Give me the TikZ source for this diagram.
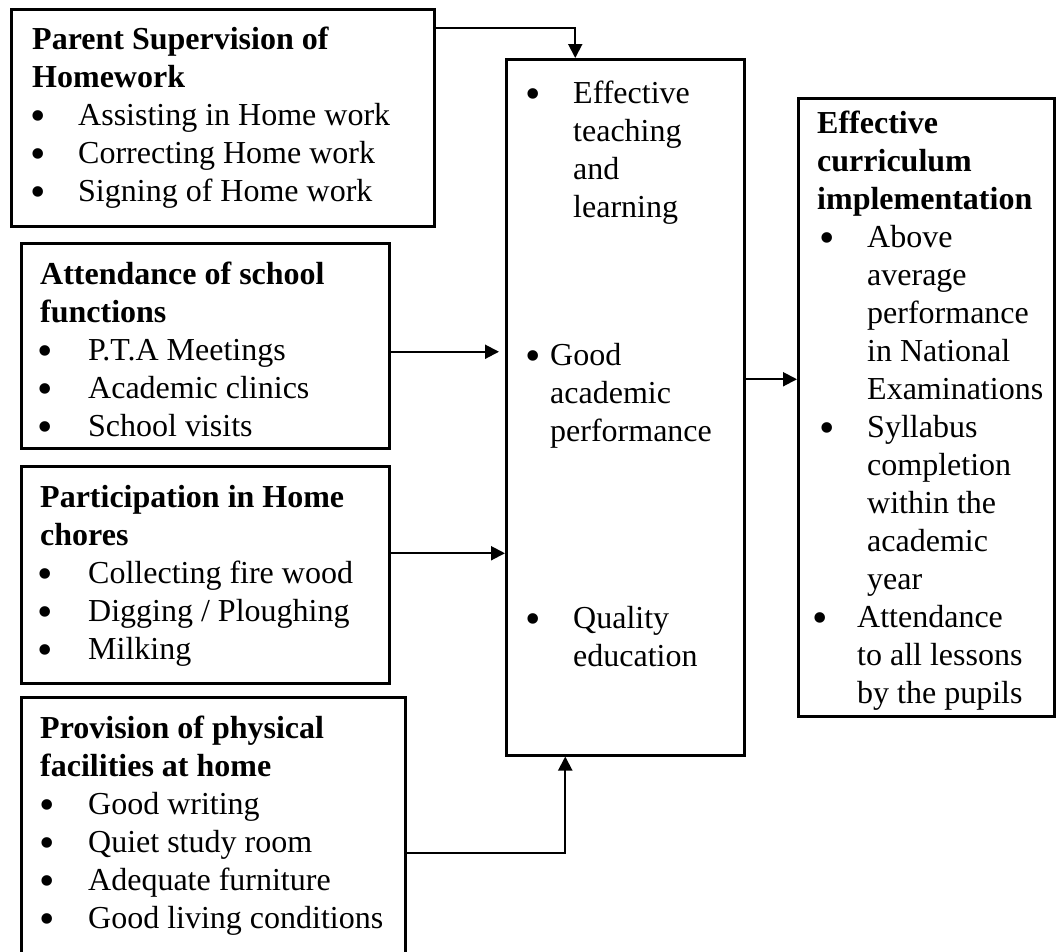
\documentclass[tikz,border=0pt]{standalone}
\usepackage{fontspec}
\setmainfont{Liberation Serif}
\usetikzlibrary{arrows.meta}
\newcommand{\rows}[1]{\begin{tabular}[t]{@{}l@{}}#1\end{tabular}}
\newcommand{\bul}[2]{\makebox[#2][l]{\hspace*{#1}\makebox[0pt]{\raisebox{-5pt}{\fontsize{44}{38}\selectfont\textbullet}}}}

\begin{document}
\begin{tikzpicture}[x=1pt,y=-1pt,
  box/.style={draw,line width=2.5pt,anchor=north west,inner sep=0pt},
  txt/.style={anchor=base west,inner sep=0pt,font=\fontsize{32}{38}\selectfont},
  arr/.style={line width=2pt,-{Triangle[length=14pt,width=14pt]}}]
\clip (0,0) rectangle (1063,951);
%boxes
\node[box,minimum width=423pt,minimum height=217pt] (supv) at (10,8) {};
\node[box,minimum width=368pt,minimum height=205pt] (attend) at (20,242) {};
\node[box,minimum width=368pt,minimum height=217pt] (chores) at (20,465) {};
\node[box,minimum width=384pt,minimum height=300pt] (facil) at (20,696) {};
\node[box,minimum width=238pt,minimum height=696pt] (outcome) at (505,58) {};
\node[box,minimum width=256pt,minimum height=618pt] (impl) at (797,97) {};
%texts
\node[txt] (supvtext) at (32,49) {\rows{\textbf{Parent Supervision of}\\ \textbf{Homework}\\
  \bul{6pt}{46pt}Assisting in Home work\\ \bul{6pt}{46pt}Correcting Home work\\ \bul{6pt}{46pt}Signing of Home work}};
\node[txt] (attendtext) at (40,284) {\rows{\textbf{Attendance of school}\\ \textbf{functions}\\
  \bul{5pt}{48pt}P.T.A Meetings\\ \bul{5pt}{48pt}Academic clinics\\ \bul{5pt}{48pt}School visits}};
\node[txt] (chorestext) at (40,507) {\rows{\textbf{Participation in Home}\\ \textbf{chores}\\
  \bul{5pt}{48pt}Collecting fire wood\\ \bul{5pt}{48pt}Digging / Ploughing\\ \bul{5pt}{48pt}Milking}};
\node[txt] (faciltext) at (40,738) {\rows{\textbf{Provision of physical}\\ \textbf{facilities at home}\\
  \bul{7pt}{48pt}Good writing\\ \bul{7pt}{48pt}Quiet study room\\ \bul{7pt}{48pt}Adequate furniture\\ \bul{7pt}{48pt}Good living conditions}};
\node[txt] (teach) at (520,103) {\rows{\bul{13pt}{53pt}Effective\\ \hspace*{53pt}teaching\\ \hspace*{53pt}and\\ \hspace*{53pt}learning}};
\node[txt] (perf) at (520,365) {\rows{\bul{13pt}{30pt}Good\\ \hspace*{30pt}academic\\ \hspace*{30pt}performance}};
\node[txt] (qual) at (520,628) {\rows{\bul{13pt}{53pt}Quality\\ \hspace*{53pt}education}};
\node[txt] (impltext) at (817,133) {\rows{\textbf{Effective}\\ \textbf{curriculum}\\ \textbf{implementation}\\
  \bul{10pt}{50pt}Above\\ \hspace*{50pt}average\\ \hspace*{50pt}performance\\ \hspace*{50pt}in National\\ \hspace*{50pt}Examinations\\
  \bul{10pt}{50pt}Syllabus\\ \hspace*{50pt}completion\\ \hspace*{50pt}within the\\ \hspace*{50pt}academic\\ \hspace*{50pt}year\\
  \bul{3pt}{40pt}Attendance\\ \hspace*{40pt}to all lessons\\ \hspace*{40pt}by the pupils}};
%arrows
\coordinate (a1) at ([yshift=-20pt]supv.north east);
\coordinate (a2) at ([yshift=-6pt]attend.east);
\coordinate (a3) at ([yshift=21.5pt]chores.east);
\coordinate (a4) at ([yshift=-6pt]facil.east);
\coordinate (a5) at ([yshift=28pt]outcome.east);
\draw[arr] (a1) -| ([xshift=-50pt]outcome.north);
\draw[arr,shorten >=6pt] (a2) -- (a2 -| outcome.west);
\draw[arr] (a3) -- (a3 -| outcome.west);
\draw[arr] (a4) -| ([xshift=-60pt]outcome.south);
\draw[arr] (a5) -- (a5 -| impl.west);
\end{tikzpicture}
\end{document}
